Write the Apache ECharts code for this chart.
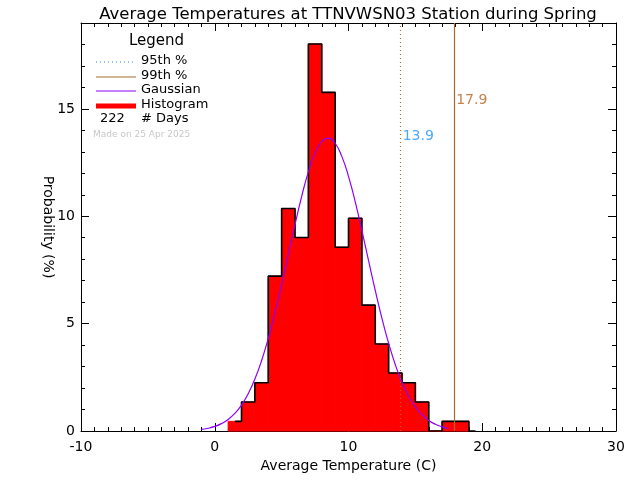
<!DOCTYPE html>
<html>
<head>
<meta charset="utf-8">
<script src="https://cdn.jsdelivr.net/npm/echarts@6/dist/echarts.min.js"></script>
<style>html,body{margin:0;padding:0;background:#fff}#c{width:640px;height:480px}</style>
</head>
<body>
<div id="c"></div>
<script>
// Histogram bins (left edges, width 1 C) and probability (%)
var binStarts = [1,2,3,4,5,6,7,8,9,10,11,12,13,14,15,16,17,18];
var binWidth = 1;
var binPct = [0.45,1.35,2.25,7.21,10.36,9.01,18.02,15.77,8.56,9.91,5.86,4.05,2.70,2.25,1.35,0,0.45,0.45];
// Gaussian curve
var gaussX = [-1,-0.5,0,0.5,1,1.5,2,2.5,3,3.5,4,4.5,5,5.5,6,6.5,7,7.5,8,8.5,9,9.5,10,10.5,11,11.5,12,12.5,13,13.5,14,14.5,15,15.5,16,16.5,17,17.5];
var gaussY = [0.075,0.128,0.213,0.344,0.538,0.819,1.209,1.735,2.418,3.274,4.306,5.499,6.820,8.217,9.616,10.93,12.07,12.94,13.48,13.64,13.40,12.79,11.86,10.68,9.34,7.934,6.547,5.247,4.085,3.088,2.268,1.618,1.121,0.755,0.493,0.313,0.193,0.116];
// Percentiles
var p95 = 13.9, p99 = 17.9;
var p95LabelY = 13.7, p99LabelY = 15.4;
var nDays = 222;
var xTicks = {min:-10, max:30, interval:10};
var yTicks = {min:0, max:19, interval:5};

var FONT = 'DejaVu Sans';
var chart = echarts.init(document.getElementById('c'), null, {renderer:'canvas'});

var barData = binStarts.map(function(s,i){return [s, s+binWidth, binPct[i]];});
// step outline starting at the middle of the first bin
var outline = [[binStarts[0]+binWidth/2, binPct[0]]];
binStarts.forEach(function(s,i){ if(i>0) outline.push([s, binPct[i]]); outline.push([s+binWidth, binPct[i]]); });
var lastEdge = binStarts[binStarts.length-1]+binWidth;
outline.push([lastEdge, 0]); outline.push([lastEdge+binWidth/2, 0]);
var gauss = gaussX.map(function(x,i){return [x, gaussY[i]];});

var axisCommon = {
  axisLine:{show:true, onZero:false, lineStyle:{color:'#000', width:1}},
  axisTick:{show:true, inside:true, length:8, lineStyle:{color:'#000'}},
  minorTick:{show:true, splitNumber:10, length:4, lineStyle:{color:'#000'}},
  splitLine:{show:false}, minorSplitLine:{show:false}
};
function ax(extra){ return Object.assign({}, JSON.parse(JSON.stringify(axisCommon)), extra); }

var option = {
  backgroundColor:'#fff',
  animation:false,
  title:{text:'Average Temperatures at TTNVWSN03 Station during Spring', left:343, textAlign:'center', top:1,
    textStyle:{fontFamily:FONT, fontSize:16.5, fontWeight:'normal', color:'#000'}},
  grid:{left:81, right:24, top:23, bottom:49},
  xAxis:[
    ax({type:'value', position:'bottom', min:xTicks.min, max:xTicks.max, interval:xTicks.interval,
      name:'Average Temperature (C)', nameLocation:'middle', nameGap:28, nameMoveOverlap:false,
      nameTextStyle:{fontFamily:FONT, fontSize:14, color:'#000'},
      axisLabel:{fontFamily:FONT, fontSize:14, color:'#000', margin:9}}),
    ax({type:'value', position:'top', min:xTicks.min, max:xTicks.max, interval:xTicks.interval,
      axisLabel:{show:false}})
  ],
  yAxis:[
    ax({type:'value', position:'left', min:yTicks.min, max:yTicks.max, interval:yTicks.interval,
      minorTick:{show:true, splitNumber:5, length:4, lineStyle:{color:'#000'}},
      name:'Probability (%)', nameLocation:'middle', nameGap:26, nameRotate:-90, nameMoveOverlap:false,
      nameTextStyle:{fontFamily:FONT, fontSize:14, color:'#000'},
      axisLabel:{fontFamily:FONT, fontSize:14, color:'#000', margin:6,
        formatter:function(v){return v%5===0?String(v):'';}}}),
    ax({type:'value', position:'right', min:yTicks.min, max:yTicks.max, interval:yTicks.interval,
      minorTick:{show:true, splitNumber:5, length:4, lineStyle:{color:'#000'}},
      axisLabel:{show:false}})
  ],
  series:[
    {type:'custom', xAxisIndex:0, yAxisIndex:0, data:barData, z:2,
      renderItem:function(params, api){
        var p0 = api.coord([api.value(0), api.value(2)]);
        var p1 = api.coord([api.value(1), 0]);
        return {type:'rect', shape:{x:p0[0], y:p0[1], width:p1[0]-p0[0], height:p1[1]-p0[1]},
          style:{fill:'#ff0000', stroke:'#ff0000', lineWidth:1}};
      }},
    {type:'line', data:outline, symbol:'none', z:3, lineStyle:{color:'#000', width:1.6}},
    {type:'line', data:gauss, symbol:'none', smooth:true, z:4, lineStyle:{color:'#8B00FF', width:1.2},
      markLine:{symbol:['none','none'], silent:true, label:{show:false},
        data:[
          {xAxis:p95, lineStyle:{type:[1,3], color:'#A86A30', width:1.2}},
          {xAxis:p99, lineStyle:{type:'solid', color:'#A86A30', width:1.2}}
        ]}},
    {type:'scatter', symbolSize:0, z:5, data:[
        {value:[p95, p95LabelY], label:{show:true, position:'right', distance:2, formatter:String(p95), color:'#1E90FF', fontFamily:FONT, fontSize:14}},
        {value:[p99, p99LabelY], label:{show:true, position:'right', distance:2, formatter:String(p99), color:'#B06420', fontFamily:FONT, fontSize:14}}
      ]}
  ],
  graphic:[
    {type:'text', left:129, top:34, style:{text:'Legend', font:'15px "DejaVu Sans"', fill:'#000'}},
    {type:'line', shape:{x1:96, y1:62, x2:136, y2:62}, style:{stroke:'#1E90FF', lineWidth:1, lineDash:[1,3]}},
    {type:'text', left:141, top:54, style:{text:'95th %', font:'13px "DejaVu Sans"', fill:'#000'}},
    {type:'line', shape:{x1:96, y1:77, x2:136, y2:77}, style:{stroke:'#A86A30', lineWidth:1.2}},
    {type:'text', left:141, top:69, style:{text:'99th %', font:'13px "DejaVu Sans"', fill:'#000'}},
    {type:'line', shape:{x1:96, y1:91, x2:136, y2:91}, style:{stroke:'#8B00FF', lineWidth:1.2}},
    {type:'text', left:141, top:83, style:{text:'Gaussian', font:'13px "DejaVu Sans"', fill:'#000'}},
    {type:'line', shape:{x1:96, y1:106, x2:136, y2:106}, style:{stroke:'#ff0000', lineWidth:5}},
    {type:'text', left:141, top:98, style:{text:'Histogram', font:'13px "DejaVu Sans"', fill:'#000'}},
    {type:'text', left:100, top:112, style:{text:String(nDays), font:'13px "DejaVu Sans"', fill:'#000'}},
    {type:'text', left:141, top:112, style:{text:'# Days', font:'13px "DejaVu Sans"', fill:'#000'}},
    {type:'text', left:93, top:130, style:{text:'Made on 25 Apr 2025', font:'9px "DejaVu Sans"', fill:'#C8C8C8'}}
  ]
};
chart.setOption(option);
</script>
</body>
</html>
